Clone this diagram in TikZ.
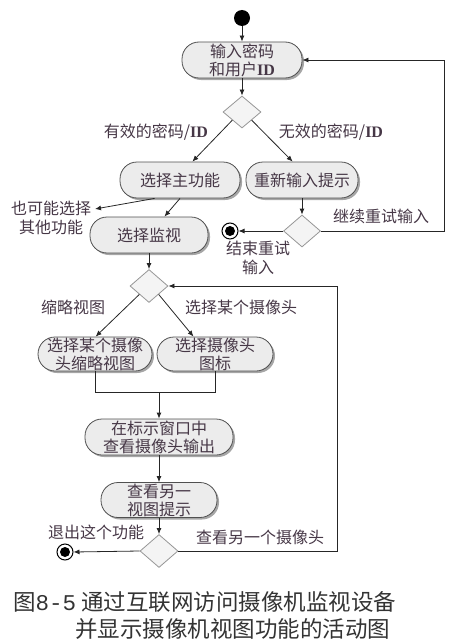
\documentclass[tikz,border=0pt]{standalone}
\usepackage{fontspec}
\setmainfont{Noto Sans CJK SC}
\newfontfamily\idf{Liberation Serif}
\newfontfamily\monof{Liberation Mono}
\usetikzlibrary{arrows.meta,shapes.geometric,shadows,calc}
\definecolor{txt}{RGB}{70,55,70}
\definecolor{nodefill}{RGB}{236,236,236}
\definecolor{nodeline}{RGB}{80,80,80}
\definecolor{dline}{RGB}{150,150,150}
\definecolor{dfill}{RGB}{244,244,244}
\newcommand{\myID}{{\idf\bfseries ID}}
\begin{document}
\begin{tikzpicture}[x=1pt,y=-1pt,
 act/.style={rectangle, rounded corners=17pt, draw=nodeline, fill=nodefill, line width=0.8pt, inner sep=0, align=center, text=txt, font=\fontsize{16}{18}\selectfont, drop shadow={shadow xshift=2pt, shadow yshift=-2pt, fill=gray!70, opacity=1}},
 dec/.style={diamond, draw=dline, fill=dfill, line width=0.8pt, inner sep=0},
 lab/.style={text=txt, font=\fontsize{16}{19}\selectfont, align=center, inner sep=0},
 arr/.style={-{Latex[length=6pt,width=5pt]}, line width=0.8pt, draw=black!85},
 ln/.style={line width=0.8pt, draw=black!85},
 fin/.style={circle, draw=black, line width=1pt, fill=white, minimum size=16pt, inner sep=0, path picture={\fill[black] (path picture bounding box.center) circle (5pt);}},
]
\useasboundingbox (0,0) rectangle (475,642);

% start
\node[circle, fill=black, minimum size=16pt, inner sep=0] (start) at (242,18) {};
\node[act, minimum width=120pt, minimum height=36pt] (n1) at (242,60) {输入密码\\和用户\myID};
\node[dec, minimum width=38pt, minimum height=32pt] (d1) at (242,112) {};
\node[act, minimum width=120pt, minimum height=36pt] (main) at (180,180) {选择主功能};
\node[act, minimum width=112pt, minimum height=36pt] (rep) at (302,180) {重新输入提示};
\node[act, minimum width=118pt, minimum height=36pt] (mon) at (149,235) {选择监视};
\node[dec, minimum width=37pt, minimum height=32pt] (d2) at (302,231) {};
\node[fin] (end1) at (230,231) {};
\node[dec, minimum width=38pt, minimum height=33pt] (d3) at (149,286) {};
\node[act, minimum width=114pt, minimum height=34pt] (thumb) at (95,354) {选择某个摄像\\头缩略视图};
\node[act, minimum width=116pt, minimum height=34pt] (icon) at (215,354) {选择摄像头\\图标};
\node[act, minimum width=148pt, minimum height=36pt] (view) at (159,437) {在标示窗口中\\查看摄像头输出};
\node[act, minimum width=116pt, minimum height=35pt] (nxt) at (159,500) {查看另一\\视图提示};
\node[dec, minimum width=38pt, minimum height=33pt] (d4) at (159,551) {};
\node[fin] (end2) at (65,552) {};

% labels
\node[lab] (l1) at (156,132) {有效的密码/\myID};
\node[lab] (l2) at (331,132) {无效的密码/\myID};
\node[lab] (l3) at (51,218) {也可能选择\\其他功能};
\node[lab] (l4) at (381,216) {继续重试输入};
\node[lab] (l5) at (258,258) {结束重试\\输入};
\node[lab] (l6) at (73,307) {缩略视图};
\node[lab] (l7) at (241,307) {选择某个摄像头};
\node[lab] (l8) at (96,532) {退出这个功能};
\node[lab] (l9) at (260,537) {查看另一个摄像头};

% caption
\node[anchor=west, inner sep=0, text=black!80, font=\fontsize{22.5}{26}\selectfont] (cap1) at (13,602) {图{\monof 8-5} 通过互联网访问摄像机监视设备};
\node[anchor=west, inner sep=0, text=black!80, font=\fontsize{22.5}{26}\selectfont] (cap2) at (75,629) {并显示摄像机视图功能的活动图};

% helper coordinates
\coordinate (otherpt) at (95,209);
\coordinate (r1) at (444,60);
\coordinate (r2) at (337,286);
\coordinate (j) at (159,392);

% connectors
\draw[arr] (start) -- (n1);
\draw[arr] (n1) -- (d1);
\draw[arr] (d1.south west) -- (main.56);
\draw[arr] (d1.south east) -- (rep.117);
\draw[arr] (main.216) -- (otherpt);
\draw[arr] (main.south) -- (mon.50);
\draw[arr] (rep) -- (d2);
\draw[arr] (d2.west) -- (end1.east);
\draw[arr] (d2.east) -| (r1) -- (n1.east);
\draw[arr] (mon) -- (d3);
\draw[arr] (d3.south west) -- (thumb.88);
\draw[arr] (d3.south east) -- (icon.141);
\draw[ln] (thumb.south) -- (thumb.south |- j) -- (icon.south |- j) -- (icon.south);
\draw[arr] (j) -- (view.north);
\draw[arr] (view) -- (nxt);
\draw[arr] (nxt) -- (d4);
\draw[arr] (d4.west) -- (end2.east);
\draw[arr] (d4.east) -| (r2) -- (d3.east);
\end{tikzpicture}
\end{document}
